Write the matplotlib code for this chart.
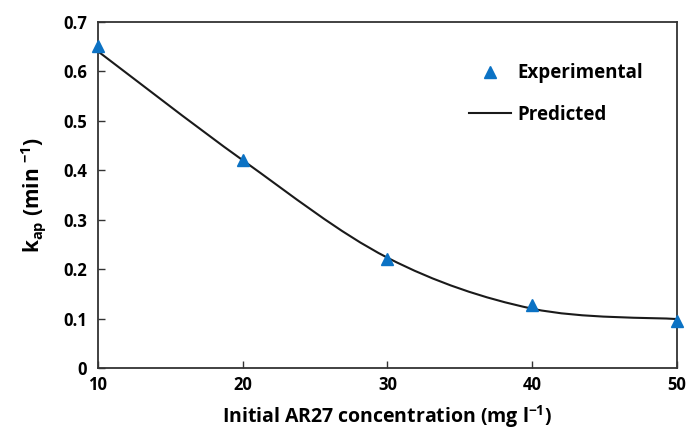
import matplotlib
matplotlib.use('Agg')
import matplotlib.pyplot as plt
from matplotlib.path import Path
from matplotlib.patches import PathPatch
from matplotlib.lines import Line2D
import numpy as np

plt.rcParams['font.family'] = ['Open Sans', 'DejaVu Sans']
plt.rcParams['font.weight'] = 'bold'
plt.rcParams['mathtext.fontset'] = 'custom'
plt.rcParams['mathtext.bf'] = 'Open Sans:bold'
plt.rcParams['mathtext.rm'] = 'Open Sans:bold'
plt.rcParams['mathtext.default'] = 'bf'

concentration = [10, 20, 30, 40, 50]
kap_experimental = [0.65, 0.42, 0.22, 0.128, 0.095]
kap_predicted = [0.64, 0.42, 0.223, 0.12, 0.099]

x_ticks = [10, 20, 30, 40, 50]
y_ticks = [0, 0.1, 0.2, 0.3, 0.4, 0.5, 0.6, 0.7]


def smooth_path(x, y):
    """
    Build a smoothed (Catmull-Rom style Bezier) path through the points,
    like a spreadsheet 'smoothed line'.
    """
    pts = np.column_stack([x, y]).astype(float)
    n = len(pts)
    verts = [pts[0]]
    codes = [Path.MOVETO]
    for i in range(n - 1):
        p0 = pts[i - 1] if i > 0 else pts[i]
        p1 = pts[i]
        p2 = pts[i + 1]
        p3 = pts[i + 2] if i + 2 < n else pts[i + 1]
        c1 = p1 + (p2 - p0) / 6.0
        c2 = p2 - (p3 - p1) / 6.0
        verts += [c1, c2, p2]
        codes += [Path.CURVE4] * 3
    return Path(verts, codes)


fig = plt.figure(figsize=(6.9, 4.33), dpi=100)
ax = fig.add_axes([0.142, 0.15, 0.839, 0.80])

ax.add_patch(PathPatch(smooth_path(concentration, kap_predicted),
                       facecolor='none', edgecolor='#1a1a1a', lw=1.5,
                       zorder=2))
ax.plot(concentration, kap_experimental, linestyle='none', marker='^',
        markersize=9, color='#0b72c4', zorder=3, clip_on=False)

ax.set_xlim(10, 50)
ax.set_ylim(0, 0.7)
ax.set_xticks(x_ticks)
ax.set_yticks(y_ticks)
ax.set_yticklabels(['0'] + [f'{v:.1f}' for v in y_ticks[1:]])
ax.tick_params(direction='in', length=5, width=1, labelsize=12,
               color='#333333')
ax.tick_params(axis='y', pad=8)
ax.tick_params(axis='x', pad=6)
for spine in ax.spines.values():
    spine.set_linewidth(1.3)
    spine.set_color('#333333')

ax.set_xlabel('Initial AR27 concentration (mg l$^{\u2212 1}$)', fontsize=14,
              fontweight='bold', labelpad=6)
ax.set_ylabel('k$_{ap}$ (min $^{-1}$)', fontsize=15, fontweight='bold',
              labelpad=11)

handles = [
    Line2D([], [], linestyle='none', marker='^', markersize=9,
           color='#0b72c4'),
    Line2D([], [], color='#1a1a1a', lw=1.5),
]
ax.legend(handles, ['Experimental', 'Predicted'], loc='upper left',
          bbox_to_anchor=(0.641, 0.88), frameon=False, fontsize=13.5,
          borderaxespad=0, borderpad=0,
          handlelength=2.25, labelspacing=1.15, handletextpad=0.32)

fig.savefig('out.png', dpi=100)
